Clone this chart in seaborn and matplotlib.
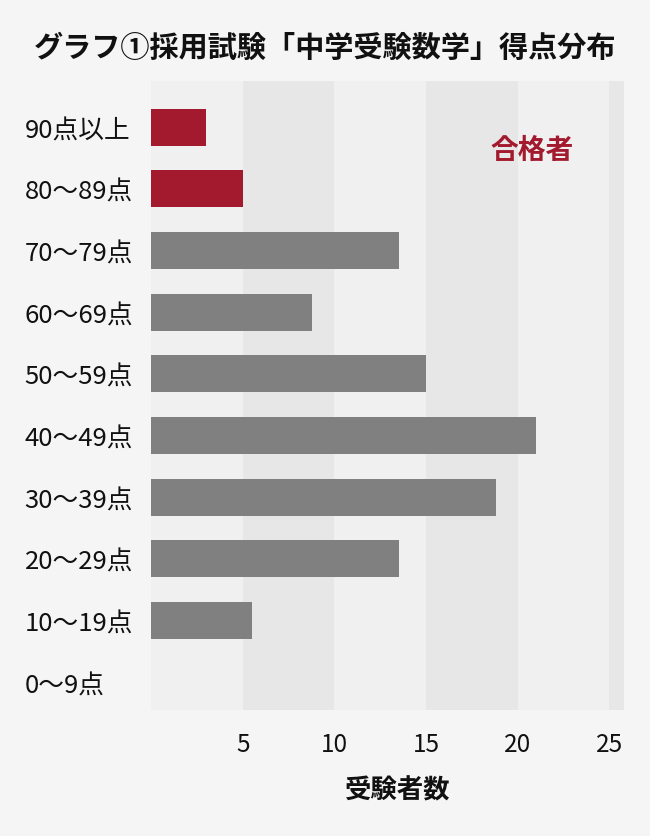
import matplotlib
matplotlib.use("Agg")
import matplotlib.pyplot as plt
import seaborn as sns
import pandas as pd

categories = ["90点以上", "80～89点", "70～79点", "60～69点", "50～59点",
              "40～49点", "30～39点", "20～29点", "10～19点", "0～9点"]
counts = [3, 5, 13.5, 8.8, 15, 21, 18.8, 13.5, 5.5, 0]
status = ["合格", "合格", "不合格", "不合格", "不合格",
          "不合格", "不合格", "不合格", "不合格", "不合格"]
x_ticks = [5, 10, 15, 20, 25]

title = "グラフ①採用試験「中学受験数学」得点分布"
x_label = "受験者数"
note = "合格者"

RED = "#a31a2f"
GRAY = "#808080"
BG = "#f5f5f5"

sns.set_theme(style="white")
plt.rcParams["font.family"] = ["Noto Sans CJK JP", "DejaVu Sans"]

df = pd.DataFrame({"category": categories, "count": counts, "status": status})

fig = plt.figure(figsize=(6.5, 8.37), dpi=100, facecolor=BG)
ax = fig.add_axes([151 / 650, 1 - 711 / 837, (624 - 151) / 650, (711 - 82) / 837])
ax.set_facecolor("#f0f0f0")

for lo in [5, 15, 25]:
    ax.axvspan(lo, lo + 5, color="#e7e7e7", lw=0, zorder=0)

sns.barplot(data=df, x="count", y="category", hue="status", order=categories,
            palette={"合格": RED, "不合格": GRAY}, dodge=False, width=0.6,
            legend=False, orient="h", ax=ax, zorder=2, saturation=1,
            linewidth=0)

ax.set_xlim(0, 25.8)
ax.set_ylim(9.45, -0.75)
ax.set_xticks(x_ticks)
ax.set_xticklabels([str(t) for t in x_ticks], fontsize=17.5, color="#111111")
ax.tick_params(axis="x", length=0, pad=15)
ax.tick_params(axis="y", length=0, pad=91)
for lbl in ax.get_yticklabels():
    lbl.set_ha("left")
    lbl.set_fontsize(18.5)
    lbl.set_color("#111111")
ax.set_ylabel("")
ax.set_xlabel(x_label, fontsize=19, fontweight="bold", labelpad=14, color="#111111")
ax.xaxis.label.set_x((398 - 151) / 473)
for s in ax.spines.values():
    s.set_visible(False)

ax.text(0.805, 0.89, note, transform=ax.transAxes, ha="center", va="center",
        fontsize=20, fontweight="bold", color=RED)

fig.text(0.5, 1 - 48 / 837, title, ha="center", va="center",
         fontsize=21, fontweight="bold", color="#111111")

fig.savefig("out.png", dpi=100, facecolor=BG)
